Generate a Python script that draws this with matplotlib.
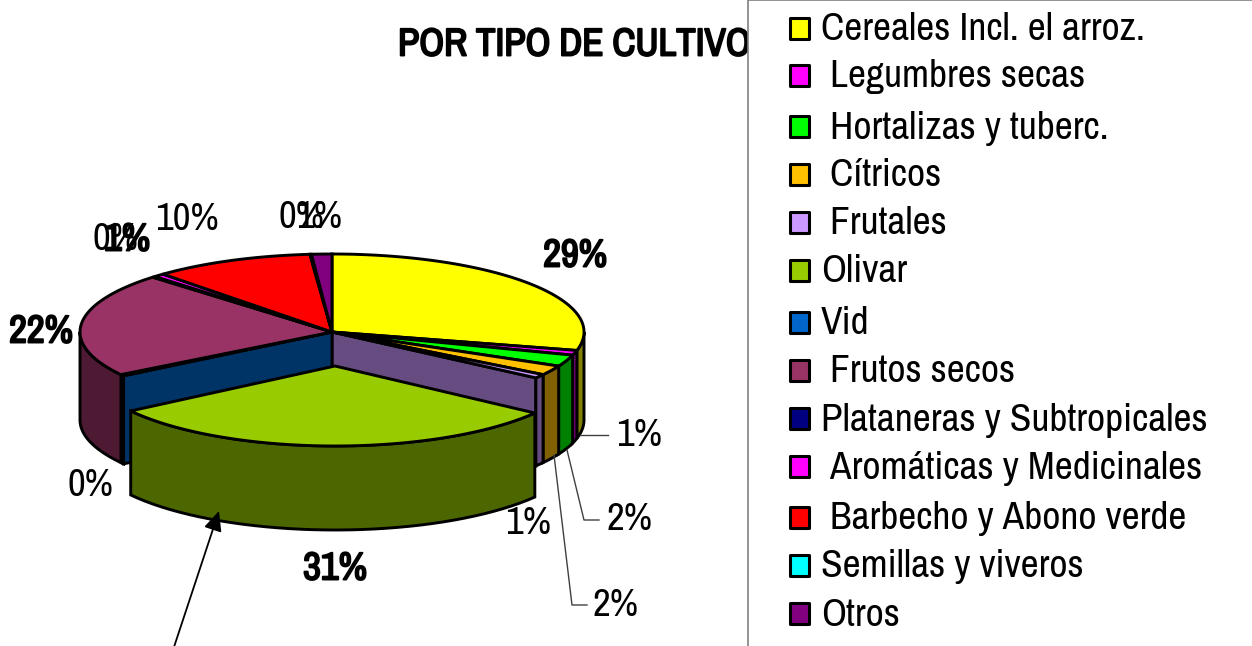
import numpy as np
import matplotlib
matplotlib.use("Agg")
import matplotlib.pyplot as plt
import matplotlib.patheffects as pe
from matplotlib.patches import Rectangle

plt.rcParams["font.family"] = ["Archivo Narrow", "Pragati Narrow", "Liberation Sans"]

categories = ["Cereales Incl. el arroz.", " Legumbres secas", " Hortalizas y tuberc.", " Cítricos",
              " Frutales", "Olivar", "Vid", " Frutos secos", "Plataneras y Subtropicales",
              " Aromáticas y Medicinales", " Barbecho y Abono verde", "Semillas y viveros", "Otros"]
values = [28.8, 1.0, 2.4, 2.0, 0.8, 30.5, 0.3, 21.6, 0.2, 0.7, 10.3, 0.1, 1.3]
top_colors = ["#FFFF00", "#FF00FF", "#00FF00", "#FFC000", "#CC99FF", "#99CC00", "#0066CC",
              "#993366", "#000080", "#FF00FF", "#FF0000", "#00FFFF", "#800080"]
side_colors = ["#808000", "#800080", "#008000", "#806000", "#664C80", "#4C6600", "#003366",
               "#4D1933", "#000040", "#800080", "#800000", "#008080", "#400040"]
legend_y = [28, 75, 126, 174, 222, 270, 322, 370, 418, 466, 517, 565, 613]

cx, cy, rx, ry, depth = 332, 332, 252, 78, 88
ox, oy, orx, ory, odepth = 335, 366, 247, 80, 84
exploded = 5
lw = 2.1
bold = [pe.withStroke(linewidth=1.4, foreground="black")]

fig = plt.figure(figsize=(12.52, 6.46), dpi=100)
ax = fig.add_axes([0, 0, 1, 1])
ax.set_xlim(0, 1252)
ax.set_ylim(646, 0)
ax.axis("off")


def rim(a, x0, y0, w, h):
    t = np.radians(a)
    return x0 + w * np.sin(t), y0 - h * np.cos(t)


def outer_wall(a0, a1, color, x0, y0, w, h, d):
    a0, a1 = max(a0, 90), min(a1, 270)
    if a1 <= a0:
        return
    a = np.linspace(a0, a1, 40)
    x, y = rim(a, x0, y0, w, h)
    ax.fill(np.r_[x, x[::-1]], np.r_[y, y[::-1] + d], facecolor=color, edgecolor="black", lw=lw)


def top(a0, a1, color, x0, y0, w, h):
    a = np.linspace(a0, a1, max(int(a1 - a0) * 2, 4))
    x, y = rim(a, x0, y0, w, h)
    ax.fill(np.r_[x0, x], np.r_[y0, y], facecolor=color, edgecolor="black", lw=lw)


def radial_wall(a, color):
    x, y = rim(a, cx, cy, rx, ry)
    ax.fill([cx, x, x, cx], [cy, y, y + depth, cy + depth], facecolor=color, edgecolor="black", lw=lw)


edges = np.r_[0, np.cumsum(values)] / sum(values) * 360

# walls facing the gap left by the pulled out slice
radial_wall(edges[exploded], side_colors[exploded - 1])
radial_wall(edges[exploded + 1], side_colors[exploded + 1])

for i in range(len(values)):
    if i != exploded:
        outer_wall(edges[i], edges[i + 1], side_colors[i], cx, cy, rx, ry, depth)
for i in range(len(values)):
    if i != exploded:
        top(edges[i], edges[i + 1], top_colors[i], cx, cy, rx, ry)

outer_wall(edges[exploded], edges[exploded + 1], side_colors[exploded], ox, oy, orx, ory, odepth)
top(edges[exploded], edges[exploded + 1], top_colors[exploded], ox, oy, orx, ory)

# percent labels
fs = 28
for txt, x, y, is_bold in [("29%", 575, 256, True), ("22%", 41, 332, True), ("31%", 335, 569, True),
                           ("10%", 187, 220, False), ("0%", 301, 217, False), ("1%", 319, 217, False),
                           ("0%", 115, 240, False), ("1%", 127, 240, True), ("1%", 639, 435, False),
                           ("2%", 629, 520, False), ("2%", 616, 605, False), ("1%", 528, 523, False),
                           ("0%", 90, 486, False)]:
    t = ax.text(x, y, txt, fontsize=fs, ha="center", va="center", color="black")
    if is_bold:
        t.set_path_effects(bold)

# leader lines
for xs, ys in [([580, 608], [435, 435]),
               ([567, 584, 599], [450, 520, 520]),
               ([554, 572, 587], [455, 605, 605])]:
    ax.plot(xs, ys, color="#404040", lw=1)

ax.annotate("", xy=(219, 511), xytext=(173, 650), annotation_clip=False,
            arrowprops=dict(arrowstyle="-|>,head_length=1.2,head_width=0.55", color="black", lw=1.3,
                            shrinkA=0, shrinkB=0))

title = ax.text(398, 45, "POR TIPO DE CULTIVO", fontsize=fs, ha="left", va="center")
title.set_path_effects(bold)

# legend box hides the end of the title
ax.add_patch(Rectangle((748, 0), 520, 660, facecolor="white", edgecolor="#808080", lw=1.2, zorder=5))
for name, color, y in zip(categories, top_colors, legend_y):
    ax.add_patch(Rectangle((790, y - 10), 19, 21, facecolor=color, edgecolor="black", lw=2.2,
                           joinstyle="round", zorder=6))
    ax.text(821, y + 2, name, fontsize=28.4, ha="left", va="center", color="black", zorder=6)

fig.savefig("out.png", dpi=100)
